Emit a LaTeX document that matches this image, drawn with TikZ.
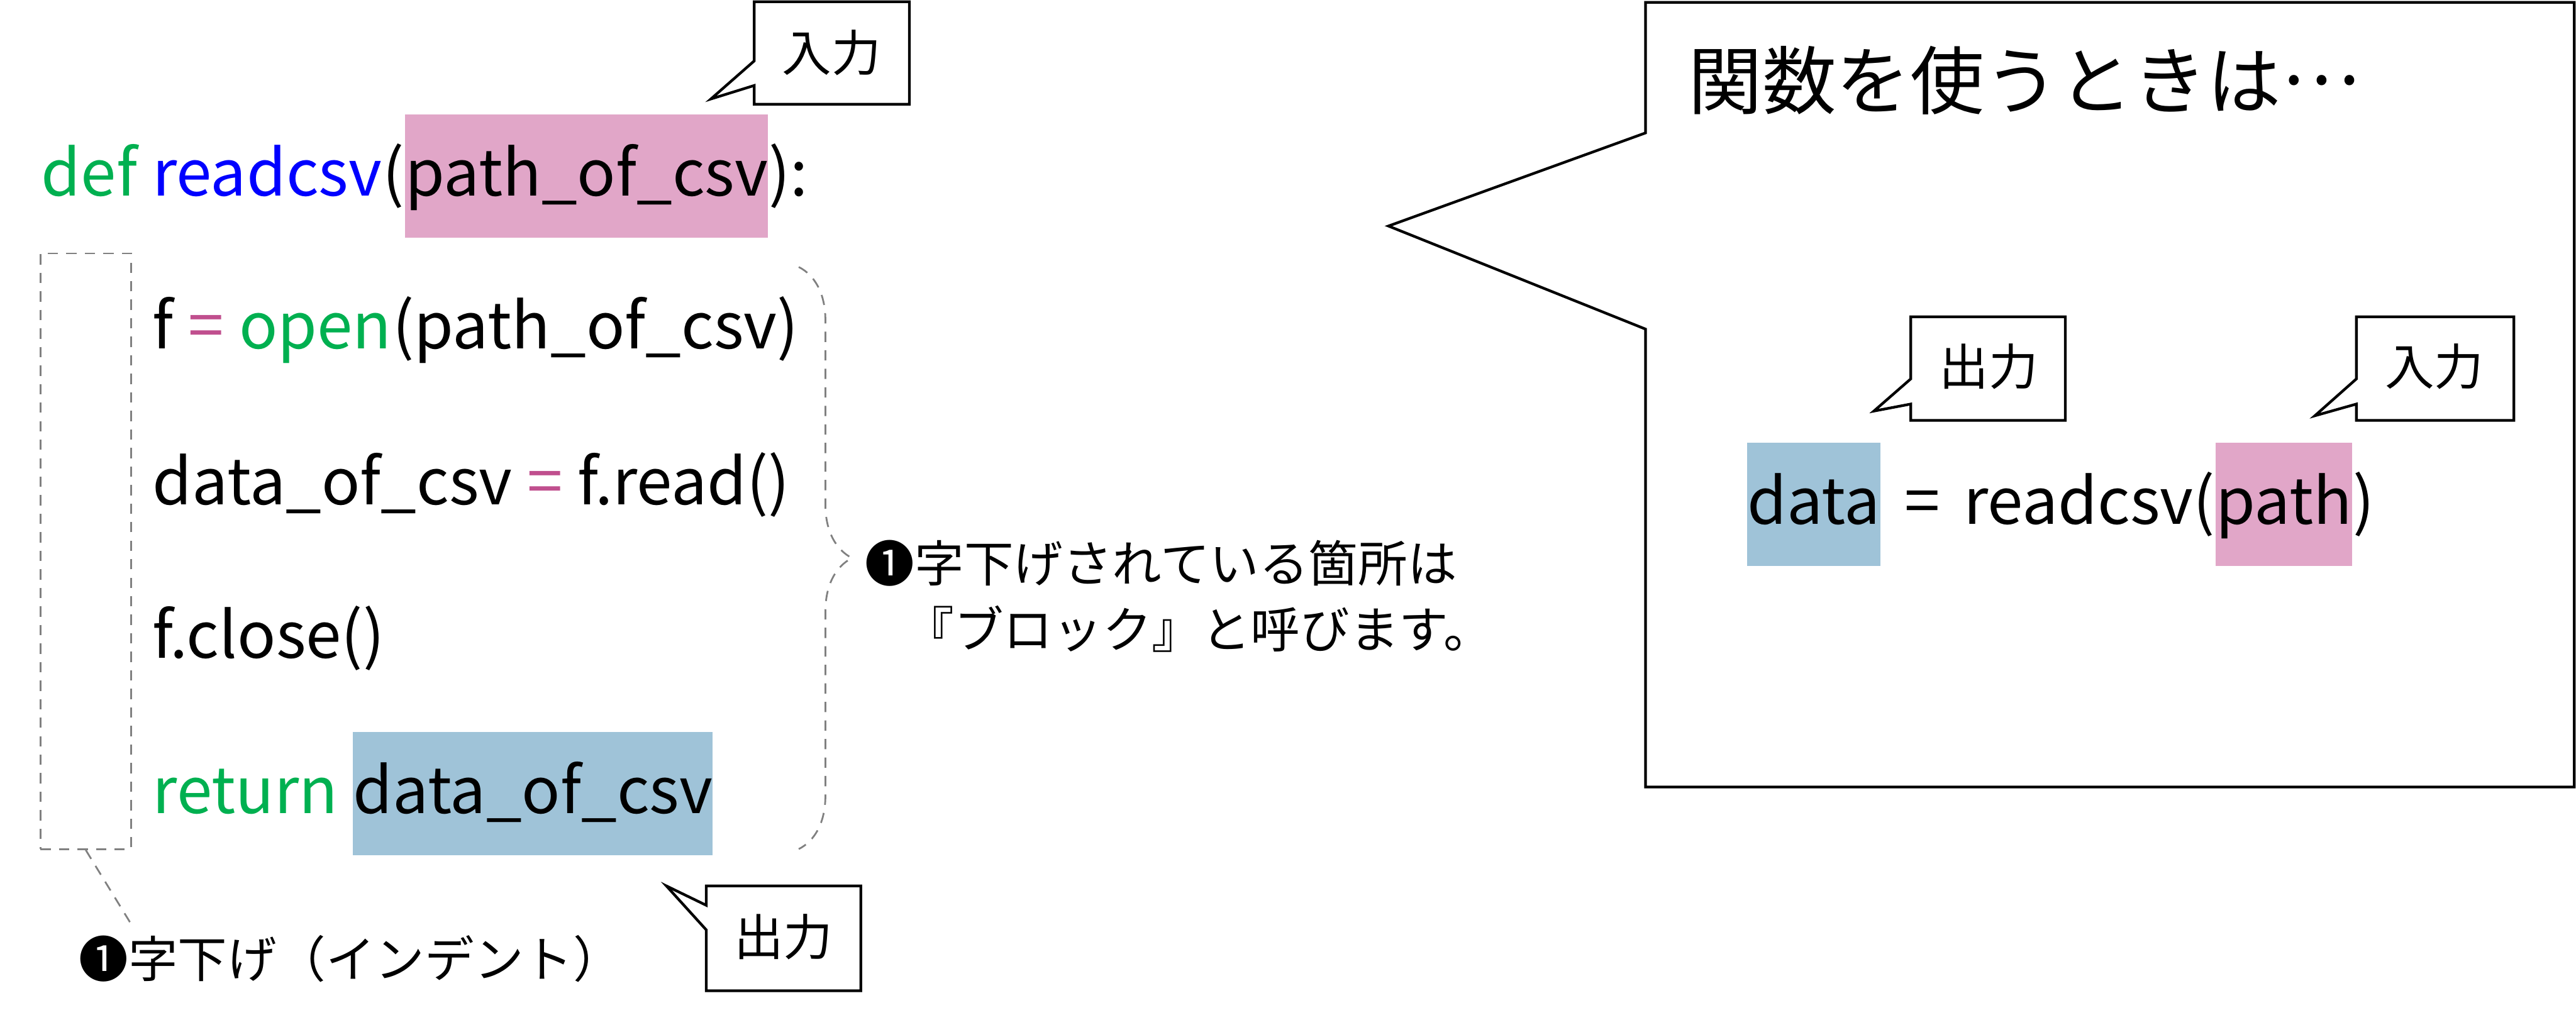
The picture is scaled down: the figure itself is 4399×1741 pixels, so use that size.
\documentclass[tikz,border=0pt]{standalone}
\usepackage{fontspec}
\setmainfont{Noto Sans CJK JP}
\usetikzlibrary{decorations.pathreplacing}

\definecolor{kwgreen}{HTML}{00B050}
\definecolor{fnblue}{HTML}{0000FF}
\definecolor{opmagenta}{HTML}{C04F8E}
\definecolor{inpink}{HTML}{E1A6C8}
\definecolor{outblue}{HTML}{9FC3D8}
\definecolor{guidegray}{HTML}{808080}

\begin{document}
\begin{tikzpicture}[x=0.01cm,y=-0.01cm,line join=miter,
  code/.style={inner sep=0pt,anchor=base west,font=\fontsize{31}{38}\selectfont},
  kw/.style={code,text=kwgreen},
  fn/.style={code,text=fnblue},
  op/.style={code,text=opmagenta},
  hlbox/.style={code,text height=1.39cm,text depth=0.72cm},
  argbox/.style={hlbox,fill=inpink},
  retbox/.style={hlbox,fill=outblue},
  note/.style={inner sep=0pt,font=\fontsize{24}{32}\selectfont},
  balloon/.style={line width=1.3pt},
  guide/.style={draw=guidegray,line width=0.85pt,dash pattern=on 5pt off 4pt}]
  \useasboundingbox (0,0) rectangle (4399,1741);

  % 関数定義
  \node[kw] (l1def) at (70,334) {def\ \mbox{}};
  \node[fn] (l1name) at (l1def.base east) {readcsv};
  \node[code] (l1open) at (l1name.base east) {(};
  \node[argbox] (l1arg) at (l1open.base east) {path\_of\_csv};
  \node[code] (l1close) at (l1arg.base east) {):};

  \node[code] (l2f) at (260,596) {f\ \mbox{}};
  \node[op] (l2eq) at (l2f.base east) {=\ \mbox{}};
  \node[kw] (l2open) at (l2eq.base east) {open};
  \node[code] (l2arg) at (l2open.base east) {(path\_of\_csv)};

  \node[code] (l3data) at (260,862) {data\_of\_csv\ \mbox{}};
  \node[op] (l3eq) at (l3data.base east) {=\ \mbox{}};
  \node[code] (l3read) at (l3eq.base east) {f.read()};

  \node[code] (l4close) at (260,1124) {f.close()};

  \node[kw] (l5ret) at (260,1389) {return\ \mbox{}};
  \node[retbox] (l5val) at (l5ret.base east) {data\_of\_csv};

  % 字下げの枠と説明
  \node[guide,minimum width=1.55cm,minimum height=10.17cm] (indent) at (146.5,941.5) {};
  \coordinate (indentend) at (222,1575);
  \draw[guide] (indent.south) -- (indentend);
  \node[note,anchor=west] (indentnote) at (134,1637) {❶字下げ（インデント）};

  % ブロックの括弧
  \coordinate (blocktop) at (1364,456);
  \coordinate (blockbottom) at (1364,1450);
  \draw[guide,decorate,decoration={brace,amplitude=0.91cm}] (blocktop) -- (blockbottom);
  \node[note,anchor=west,align=left] (blocknote) at (1477,1018)
    {❶字下げされている箇所は\\\hspace*{0.8em}『ブロック』と呼びます。};

  % 入力・出力の吹き出し
  \draw[balloon] (1288,146) -- (1288,178) -- (1553,178) -- (1553,3) -- (1288,3) -- (1288,104) -- (1214,169) -- cycle;
  \node[note] (codein) at (1420,90) {入力};
  \draw[balloon] (1206,1546) -- (1206,1513) -- (1470,1513) -- (1470,1692) -- (1206,1692) -- (1206,1588) -- (1138,1513) -- cycle;
  \node[note] (codeout) at (1338,1600) {出力};

  % 大きな吹き出し
  \draw[balloon] (2810,227) -- (2810,4) -- (4396,4) -- (4396,1344) -- (2810,1344) -- (2810,562) -- (2371,386) -- cycle;
  \node[inner sep=0pt,anchor=west,font=\fontsize{36}{42}\selectfont] (usetitle) at (2882,137)
    {関数を使うときは\raisebox{0.32em}{…}};

  \node[retbox] (f1data) at (2983,895) {data};
  \node[code] (f1call) at (f1data.base east) {\hspace{0.37em}=\hspace{0.37em}readcsv(};
  \node[argbox] (f1arg) at (f1call.base east) {path};
  \node[code] (f1close) at (f1arg.base east) {)};

  \draw[balloon] (3263,647) -- (3263,541) -- (3527,541) -- (3527,718) -- (3263,718) -- (3263,690) -- (3200,702) -- cycle;
  \node[note] (callout) at (3396,626) {出力};
  \draw[balloon] (4024,647) -- (4024,541) -- (4293,541) -- (4293,718) -- (4024,718) -- (4024,690) -- (3953,710) -- cycle;
  \node[note] (callin) at (4157,626) {入力};
\end{tikzpicture}
\end{document}
